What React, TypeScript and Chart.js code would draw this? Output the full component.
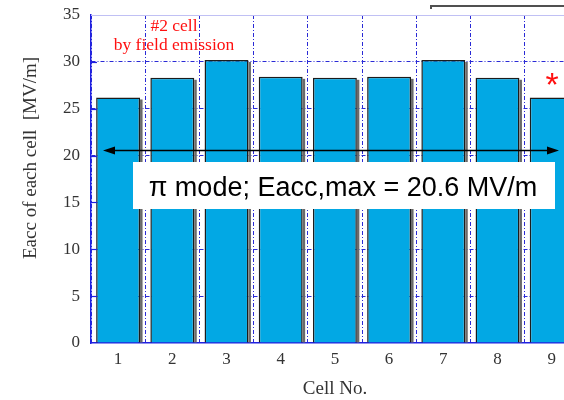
import React, { useEffect, useRef } from 'react';
import { Chart, registerables } from 'chart.js';

Chart.register(...registerables);

const categories = ['1', '2', '3', '4', '5', '6', '7', '8', '9'];
const eaccValues = [26.2, 28.3, 30.2, 28.4, 28.3, 28.4, 30.2, 28.3, 26.2];
const yMin = 0;
const yMax = 35;
const yStep = 5;
const piModeEaccMax = 20.6;
const noteLines = ['#2 cell', 'by field emission'];
const boxText = `π mode; Eacc,max = ${piModeEaccMax} MV/m`;
const xTitle = 'Cell No.';
const yTitle = 'Eacc of each cell  [MV/m]';

const SERIF = '"Liberation Serif", "Times New Roman", serif';
const SANS = '"Liberation Sans", Arial, sans-serif';
const GRID_BLUE = '#2a2ad6';
const AXIS_BLUE = '#2020e0';

const decorPlugin = {
  id: 'decor',
  beforeDatasetsDraw(chart: any) {
    const ctx = chart.ctx;
    const meta = chart.getDatasetMeta(0);
    ctx.save();
    ctx.fillStyle = '#6a6a6a';
    meta.data.forEach((bar: any) => {
      const p = bar.getProps(['x', 'y', 'base', 'width'], true);
      ctx.fillRect(p.x + p.width / 2, p.y + 2, 2.5, p.base - p.y - 2);
    });
    ctx.restore();
  },
  afterDatasetsDraw(chart: any) {
    const ctx = chart.ctx;
    const area = chart.chartArea;
    const ys = chart.scales.y;
    ctx.save();
    // top frame line (light)
    ctx.strokeStyle = '#c0c0f4';
    ctx.lineWidth = 1;
    ctx.beginPath();
    ctx.moveTo(area.left, Math.round(area.top) + 0.5);
    ctx.lineTo(area.right, Math.round(area.top) + 0.5);
    ctx.stroke();
    // inward ticks on y axis
    ctx.strokeStyle = AXIS_BLUE;
    ctx.lineWidth = 1.2;
    for (let v = yMin + yStep; v < yMax; v += yStep) {
      const py = Math.round(ys.getPixelForValue(v)) + 0.5;
      ctx.beginPath();
      ctx.moveTo(area.left, py);
      ctx.lineTo(area.left + 6, py);
      ctx.stroke();
    }
    // arrow at Eacc,max
    const ay = Math.round(ys.getPixelForValue(piModeEaccMax)) + 0.5;
    const ax0 = area.left + 12;
    const ax1 = 559;
    ctx.strokeStyle = '#000';
    ctx.fillStyle = '#000';
    ctx.lineWidth = 1.5;
    ctx.beginPath();
    ctx.moveTo(ax0 + 8, ay);
    ctx.lineTo(ax1 - 8, ay);
    ctx.stroke();
    ctx.beginPath();
    ctx.moveTo(ax0, ay);
    ctx.lineTo(ax0 + 12, ay - 4);
    ctx.lineTo(ax0 + 12, ay + 4);
    ctx.closePath();
    ctx.fill();
    ctx.beginPath();
    ctx.moveTo(ax1, ay);
    ctx.lineTo(ax1 - 12, ay - 4);
    ctx.lineTo(ax1 - 12, ay + 4);
    ctx.closePath();
    ctx.fill();
    // white box with text
    ctx.fillStyle = '#fff';
    ctx.fillRect(133, 162, 422, 47);
    ctx.fillStyle = '#000';
    ctx.font = `27px ${SANS}`;
    ctx.textAlign = 'center';
    ctx.textBaseline = 'alphabetic';
    ctx.fillText(boxText, 343, 196);
    // red note
    ctx.fillStyle = '#ff1010';
    ctx.font = `17.5px ${SERIF}`;
    ctx.fillText(noteLines[0], 174, 31);
    ctx.fillText(noteLines[1], 174, 50);
    // asterisk
    ctx.font = `34px ${SANS}`;
    ctx.fillText('*', 552, 96);
    // top partial line
    ctx.strokeStyle = '#505050';
    ctx.lineWidth = 2;
    ctx.beginPath();
    ctx.moveTo(431, 9);
    ctx.lineTo(431, 6);
    ctx.lineTo(600, 6);
    ctx.stroke();
    // axis titles
    ctx.fillStyle = '#333';
    ctx.font = `19px ${SERIF}`;
    ctx.textBaseline = 'middle';
    ctx.textAlign = 'center';
    ctx.fillText(xTitle, 335, 389);
    ctx.save();
    ctx.translate(31, 158);
    ctx.rotate(-Math.PI / 2);
    ctx.fillText(yTitle, 0, 0);
    ctx.restore();
    ctx.restore();
  },
};

export default function App() {
  const ref = useRef<HTMLCanvasElement>(null);
  useEffect(() => {
    const canvas = ref.current;
    if (!canvas) return;
    const chart = new Chart(canvas, {
      type: 'bar',
      data: {
        labels: categories,
        datasets: [
          {
            data: eaccValues,
            backgroundColor: '#02a8e4',
            borderColor: '#1c1c1c',
            borderWidth: 1.5,
            categoryPercentage: 1,
            barPercentage: 0.81,
          },
        ],
      },
      options: {
        responsive: false,
        devicePixelRatio: 1,
        animation: false,
        layout: { padding: { left: 0, top: 15, right: 600 - 578.8, bottom: 0 } },
        plugins: { legend: { display: false }, tooltip: { enabled: false } },
        scales: {
          x: {
            offset: true,
            grid: {
              offset: true,
              color: GRID_BLUE,
              lineWidth: 1,
              drawTicks: false,
            },
            border: { color: AXIS_BLUE, width: 1.5, dash: [4, 2, 1, 2] },
            ticks: {
              color: '#333',
              font: { family: SERIF, size: 17 },
              padding: 6,
            },
            afterFit: (scale: any) => {
              scale.height = 57;
            },
          },
          y: {
            min: yMin,
            max: yMax,
            grid: {
              color: (c: any) =>
                c.tick && (c.tick.value === yMax || c.tick.value === yMin) ? 'rgba(0,0,0,0)' : GRID_BLUE,
              lineWidth: 1,
              drawTicks: true,
              tickLength: 8,
              tickColor: 'rgba(0,0,0,0)',
            },
            border: { color: AXIS_BLUE, width: 1.5, dash: [4, 2, 1, 2] },
            ticks: {
              stepSize: yStep,
              color: '#333',
              font: { family: SERIF, size: 17 },
              padding: 3,
            },
            afterFit: (scale: any) => {
              scale.width = 91;
            },
          },
        },
      },
      plugins: [decorPlugin],
    } as any);
    return () => chart.destroy();
  }, []);
  return (
    <div
      style={{
        position: 'fixed',
        left: 0,
        top: 0,
        width: 564,
        height: 400,
        overflow: 'hidden',
        background: '#fff',
      }}
    >
      <canvas ref={ref} width={600} height={400} style={{ display: 'block', width: 600, height: 400 }} />
    </div>
  );
}
